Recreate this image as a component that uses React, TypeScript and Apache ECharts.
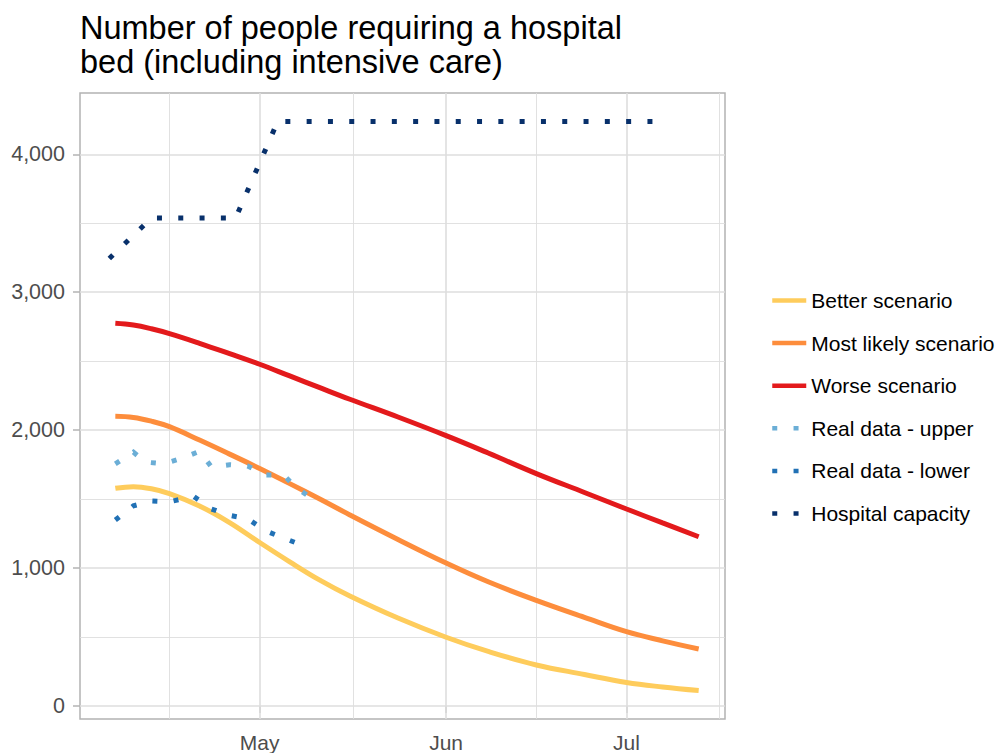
import React, { useEffect, useRef } from 'react';
import * as echarts from 'echarts';

const FONT = '"Liberation Sans", Arial, Helvetica, sans-serif';

const titleLines = ['Number of people requiring a hospital', 'bed (including intensive care)'];

const seriesNames = [
  'Better scenario',
  'Most likely scenario',
  'Worse scenario',
  'Real data - upper',
  'Real data - lower',
  'Hospital capacity',
];
const seriesColors = ['#fecc5c', '#fd8d3c', '#e31a1c', '#6baed6', '#2171b5', '#08306b'];

const scenarioDates = [
  '2020-04-07', '2020-04-10', '2020-04-13', '2020-04-16', '2020-04-21', '2020-04-26',
  '2020-05-01', '2020-05-06', '2020-05-11', '2020-05-16', '2020-05-24', '2020-06-01',
  '2020-06-08', '2020-06-16', '2020-06-24', '2020-07-01', '2020-07-07', '2020-07-13',
];
const betterValues = [1578, 1590, 1575, 1540, 1450, 1330, 1185, 1045, 912, 797, 637, 498, 395, 297, 228, 170, 137, 111];
const likelyValues = [2100, 2092, 2065, 2025, 1928, 1826, 1722, 1612, 1500, 1385, 1207, 1036, 900, 765, 642, 538, 472, 413];
const worseValues = [2775, 2762, 2735, 2700, 2630, 2555, 2478, 2393, 2308, 2224, 2095, 1960, 1834, 1685, 1548, 1428, 1327, 1227];

const upperDates = [
  '2020-04-07', '2020-04-10', '2020-04-12', '2020-04-15', '2020-04-18', '2020-04-21', '2020-04-23',
  '2020-04-26', '2020-04-29', '2020-05-02', '2020-05-05', '2020-05-07', '2020-05-10',
];
const upperValues = [1755, 1840, 1768, 1756, 1795, 1846, 1732, 1749, 1740, 1674, 1674, 1585, 1495];

const lowerDates = [
  '2020-04-07', '2020-04-10', '2020-04-13', '2020-04-16', '2020-04-20', '2020-04-23',
  '2020-04-26', '2020-04-29', '2020-05-02', '2020-05-05', '2020-05-09',
];
const lowerValues = [1348, 1451, 1486, 1480, 1520, 1428, 1382, 1357, 1270, 1217, 1150];

const capacityDates = ['2020-04-06', '2020-04-13', '2020-04-27', '2020-05-04', '2020-07-06'];
const capacityValues = [3245, 3538, 3538, 4239, 4239];

const xMin = '2020-04-01 03:00';
const xMax = '2020-07-17 09:00';
const xMajorBreaks = ['2020-05-01', '2020-06-01', '2020-07-01'];
const xMinorBreaks = ['2020-04-16', '2020-05-16 12:00', '2020-06-16', '2020-07-16 12:00'];
const xTickLabels = ['May', 'Jun', 'Jul'];

const yMin = -95;
const yMax = 4445;
const yMajorBreaks = [0, 1000, 2000, 3000, 4000];
const yMinorBreaks = [500, 1500, 2500, 3500];

function ts(s: string): number {
  const [d, t] = s.split(' ');
  const [y, m, day] = d.split('-').map(Number);
  let h = 0;
  let mi = 0;
  if (t) {
    const parts = t.split(':').map(Number);
    h = parts[0];
    mi = parts[1] || 0;
  }
  return Date.UTC(y, m - 1, day, h, mi);
}

function pairs(dates: string[], values: number[]) {
  return dates.map((d, i) => [ts(d), values[i]]);
}

export default function App() {
  const ref = useRef<HTMLDivElement>(null);

  useEffect(() => {
    if (!ref.current) return;
    const chart = echarts.init(ref.current, undefined, { renderer: 'svg' });

    const gridColor = '#dedede';
    const majorTs = xMajorBreaks.map(ts);

    const gridLines: any[] = [
      ...yMinorBreaks.map((v) => ({ yAxis: v, lineStyle: { color: gridColor, width: 0.9, type: 'solid' } })),
      ...xMinorBreaks.map((d) => ({ xAxis: ts(d), lineStyle: { color: gridColor, width: 0.9, type: 'solid' } })),
      ...yMajorBreaks.map((v) => ({ yAxis: v, lineStyle: { color: gridColor, width: 1.6, type: 'solid' } })),
      ...xMajorBreaks.map((d) => ({ xAxis: ts(d), lineStyle: { color: gridColor, width: 1.6, type: 'solid' } })),
    ];

    const solid = (name: string, color: string, values: number[]) => ({
      name,
      type: 'line',
      data: pairs(scenarioDates, values),
      smooth: 0.4,
      symbol: 'none',
      showSymbol: false,
      silent: true,
      z: 3,
      itemStyle: { color },
      lineStyle: { color, width: 5, type: 'solid', cap: 'butt' },
      emphasis: { disabled: true },
    });

    const dotted = (name: string, color: string, dates: string[], values: number[]) => ({
      name,
      type: 'line',
      data: pairs(dates, values),
      smooth: false,
      symbol: 'none',
      showSymbol: false,
      silent: true,
      z: 4,
      itemStyle: { color },
      lineStyle: { color, width: 5, type: [5, 16.3], cap: 'butt', join: 'miter' },
      emphasis: { disabled: true },
    });

    const option: any = {
      animation: false,
      backgroundColor: '#ffffff',
      textStyle: { fontFamily: FONT },
      title: {
        text: titleLines.join('\n'),
        left: 80,
        top: 11,
        padding: 0,
        textStyle: { fontSize: 32.5, lineHeight: 34, fontWeight: 'normal', color: '#000000', fontFamily: FONT },
      },
      legend: {
        orient: 'vertical',
        left: 770,
        top: 290,
        padding: 0,
        itemGap: 21.6,
        itemWidth: 34,
        itemHeight: 14,
        selectedMode: false,
        data: seriesNames,
        itemStyle: { opacity: 0, borderWidth: 0 },
        lineStyle: { width: 4.5 },
        textStyle: { fontSize: 21, lineHeight: 21, color: '#000000', fontFamily: FONT },
      },
      grid: {
        left: 80,
        right: 274,
        top: 93,
        bottom: 34,
        show: true,
        borderColor: '#b3b3b3',
        borderWidth: 1.5,
        backgroundColor: 'transparent',
        containLabel: false,
      },
      xAxis: {
        type: 'value',
        min: ts(xMin),
        max: ts(xMax),
        axisLine: { show: false },
        splitLine: { show: false },
        axisTick: { show: true, length: 7, lineStyle: { color: '#b3b3b3', width: 1.5 }, customValues: majorTs },
        axisLabel: {
          customValues: majorTs,
          formatter: (v: number) => {
            const i = majorTs.indexOf(v);
            return i >= 0 ? xTickLabels[i] : '';
          },
          margin: 13,
          color: '#4d4d4d',
          fontSize: 21,
          fontFamily: FONT,
          hideOverlap: false,
        },
      },
      yAxis: {
        type: 'value',
        min: yMin,
        max: yMax,
        axisLine: { show: false },
        splitLine: { show: false },
        axisTick: { show: true, length: 7, lineStyle: { color: '#b3b3b3', width: 1.5 }, customValues: yMajorBreaks },
        axisLabel: {
          customValues: yMajorBreaks,
          formatter: (v: number) => v.toLocaleString('en-US'),
          margin: 15,
          color: '#4d4d4d',
          fontSize: 21.5,
          fontFamily: FONT,
        },
      },
      series: [
        {
          name: 'grid',
          type: 'line',
          data: [],
          silent: true,
          z: 1,
          markLine: {
            silent: true,
            z: 1,
            symbol: ['none', 'none'],
            label: { show: false },
            emphasis: { disabled: true },
            animation: false,
            data: gridLines,
          },
        },
        solid(seriesNames[0], seriesColors[0], betterValues),
        solid(seriesNames[1], seriesColors[1], likelyValues),
        solid(seriesNames[2], seriesColors[2], worseValues),
        dotted(seriesNames[3], seriesColors[3], upperDates, upperValues),
        dotted(seriesNames[4], seriesColors[4], lowerDates, lowerValues),
        dotted(seriesNames[5], seriesColors[5], capacityDates, capacityValues),
      ],
    };

    chart.setOption(option);
    return () => chart.dispose();
  }, []);

  return (
    <div
      ref={ref}
      style={{ position: 'fixed', left: 0, top: 0, width: 999, height: 753, background: '#ffffff' }}
    />
  );
}
